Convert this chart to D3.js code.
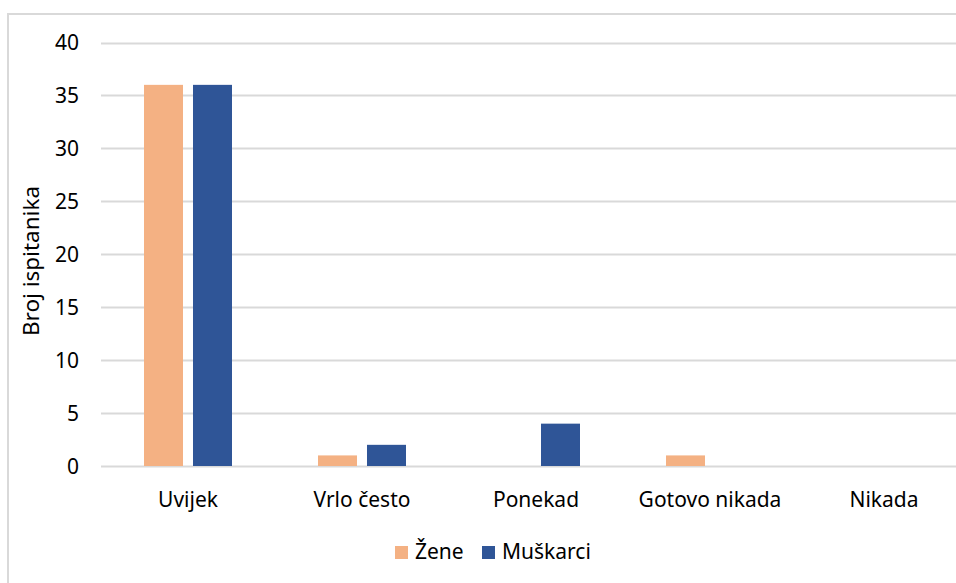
<!DOCTYPE html>
<html>
<head>
<meta charset="utf-8">
<script src="https://cdn.jsdelivr.net/npm/d3@7"></script>
<style>
  body { margin: 0; background: #fff; }
  svg text { font-family: "Noto Sans", "Open Sans", sans-serif; fill: #000; }
</style>
</head>
<body>
<svg id="chart" width="956" height="583"></svg>
<script>
const categories = ["Uvijek", "Vrlo često", "Ponekad", "Gotovo nikada", "Nikada"];
const seriesNames = ["Žene", "Muškarci"];
const zene = [36, 1, 0, 1, 0];
const muskarci = [36, 2, 4, 0, 0];
const yTicks = [0, 5, 10, 15, 20, 25, 30, 35, 40];
const colors = ["#F4B183", "#2F5597"];

const svg = d3.select("#chart");
const width = 956, height = 583;

// chart area frame (runs off the right and bottom edge, like the source)
svg.append("rect")
    .attr("x", 8).attr("y", 14)
    .attr("width", 1000).attr("height", 600)
    .attr("fill", "none")
    .attr("stroke", "#D9D9D9")
    .attr("stroke-width", 2);

const rows = categories.map((c, i) => ({ cat: c, values: [zene[i], muskarci[i]] }));

const x0 = d3.scaleBand()
    .domain(categories)
    .range([101, 971])
    .padding(0);
const x1 = d3.scaleBand()
    .domain(seriesNames)
    .range([43, 131])
    .paddingInner(0.204)
    .paddingOuter(0);
const y = d3.scaleLinear()
    .domain([0, 40])
    .range([466, 42.5]);

// gridlines
svg.append("g")
    .selectAll("line")
    .data(yTicks)
    .join("line")
    .attr("x1", 101)
    .attr("x2", width)
    .attr("y1", d => Math.round(y(d)) + 0.5)
    .attr("y2", d => Math.round(y(d)) + 0.5)
    .attr("stroke", "#D9D9D9")
    .attr("stroke-width", 2);

// y tick labels
svg.append("g")
    .selectAll("text")
    .data(yTicks)
    .join("text")
    .attr("x", 79)
    .attr("y", d => y(d))
    .attr("dy", "0.36em")
    .attr("text-anchor", "end")
    .style("font-size", "21px")
    .text(d => d);

// bars
const groups = svg.append("g")
    .selectAll("g")
    .data(rows)
    .join("g")
    .attr("transform", d => `translate(${x0(d.cat)},0)`);
groups.selectAll("rect")
    .data(d => d.values.map((v, i) => ({ key: seriesNames[i], value: v, idx: i })))
    .join("rect")
    .attr("x", d => x1(d.key))
    .attr("width", x1.bandwidth())
    .attr("y", d => y(d.value))
    .attr("height", d => y(0) - y(d.value))
    .attr("fill", d => colors[d.idx]);

// category labels
svg.append("g")
    .selectAll("text")
    .data(categories)
    .join("text")
    .attr("x", d => x0(d) + x0.bandwidth() / 2)
    .attr("y", 507)
    .attr("text-anchor", "middle")
    .style("font-size", "21px")
    .text(d => d);

// y axis title
svg.append("text")
    .attr("transform", "translate(39,261) rotate(-90)")
    .attr("text-anchor", "middle")
    .style("font-size", "22.5px")
    .text("Broj ispitanika");

// legend
const legendX = [395, 482];
const legend = svg.append("g")
    .selectAll("g")
    .data(seriesNames)
    .join("g")
    .attr("transform", (d, i) => `translate(${legendX[i]},545)`);
legend.append("rect")
    .attr("width", 13).attr("height", 13)
    .attr("y", 1)
    .attr("fill", (d, i) => colors[i]);
legend.append("text")
    .attr("x", 20)
    .attr("y", 14)
    .style("font-size", "21px")
    .text(d => d);
</script>
</body>
</html>
